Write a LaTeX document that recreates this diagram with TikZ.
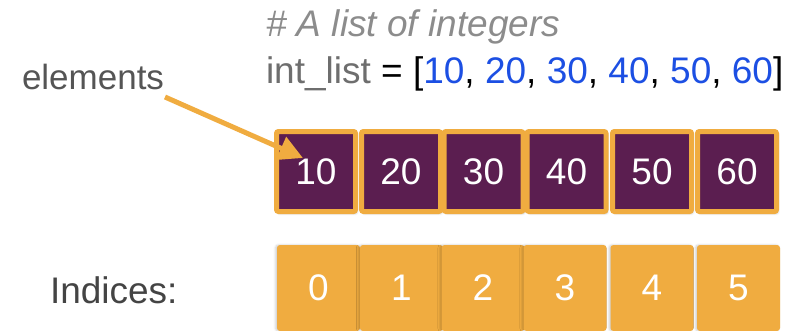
\documentclass[tikz,border=0pt]{standalone}
\usepackage{fontspec}
\setmainfont{Liberation Sans}
\usetikzlibrary{arrows.meta,shadows.blur,calc}

\definecolor{plum}{HTML}{5B1E50}
\definecolor{amber}{HTML}{F0AC40}
\definecolor{codeblue}{HTML}{1C4FE3}
\definecolor{commentgray}{HTML}{8C8C8C}
\definecolor{namegray}{HTML}{6E6E6E}
\definecolor{labelgray}{HTML}{555555}
\definecolor{darkgray}{HTML}{444444}

\newcommand{\num}[1]{\textcolor{codeblue}{#1}}

\begin{document}
\begin{tikzpicture}[x=1pt,y=-1pt,
  every node/.style={inner sep=0pt, outer sep=0pt},
  bigtext/.style={font=\fontsize{37}{44}\selectfont},
  cell/.style={bigtext, text=white, minimum width=79pt, minimum height=80pt,
    fill=plum, draw=amber, line width=5pt, rounded corners=2pt,
    blur shadow={shadow xshift=1.5pt, shadow yshift=-2pt, shadow opacity=25, shadow blur steps=6}},
  idx/.style={bigtext, text=white, minimum width=83pt, minimum height=86pt,
    fill=amber, rounded corners=3pt,
    blur shadow={shadow xshift=-1.5pt, shadow yshift=0pt, shadow opacity=20, shadow blur steps=4}},
  pointer/.style={draw=amber, line width=5pt, -{Triangle[length=24pt, width=24pt]}}
]
\useasboundingbox (0,0) rectangle (800,330);

% code listing
\node[bigtext, anchor=base west, text=commentgray] (comment) at (266,36)
  {\itshape\# A list of integers};
\node[bigtext, anchor=base west] (code) at (266,83)
  {\textcolor{namegray}{int\_list} = [\num{10}, \num{20}, \num{30}, \num{40}, \num{50}, \num{60}]};

% side labels
\node[bigtext, anchor=base west, text=labelgray, font=\fontsize{35}{42}\selectfont] (elements) at (22,89) {elements};
\node[bigtext, anchor=base west, text=darkgray] (indices) at (50,303) {Indices:};

% element cells
\node[cell] (e0) at (316,171.5) {10};
\node[cell] (e1) at (401,171.5) {20};
\node[cell] (e2) at (483.5,171.5) {30};
\node[cell] (e3) at (566.5,171.5) {40};
\node[cell] (e4) at (652,171.5) {50};
\node[cell] (e5) at (737,171.5) {60};

% index cells
\node[idx] (i0) at (318.5,288) {0};
\node[idx] (i1) at (401.5,288) {1};
\node[idx] (i2) at (483,288) {2};
\node[idx] (i3) at (565,288) {3};
\node[idx] (i4) at (652,288) {4};
\node[idx] (i5) at (738.5,288) {5};

% arrow from the label into the first cell
\coordinate (tail) at (165,97);
\coordinate (tip) at ($(e0.center)+(-13,-13.5)$);
\draw[pointer] (tail) -- (tip);
\end{tikzpicture}
\end{document}
